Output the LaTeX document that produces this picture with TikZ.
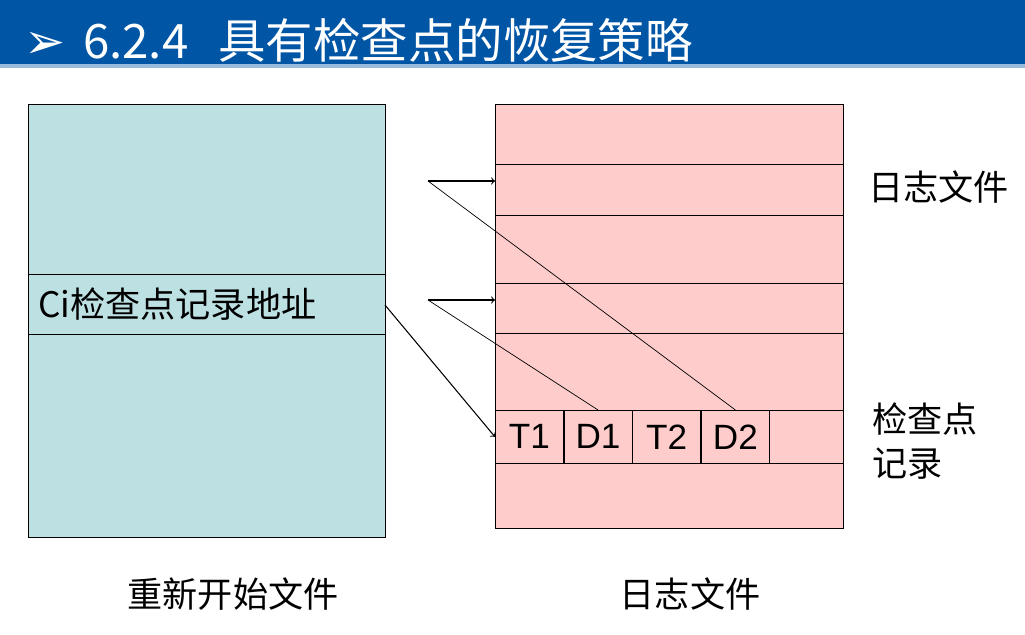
\documentclass[tikz,border=0pt]{standalone}
\usepackage{fontspec}
\setmainfont{Liberation Sans}
\newfontfamily\cjk{Noto Sans CJK SC}
\newfontfamily\symb{DejaVu Sans}
\usetikzlibrary{arrows}
\definecolor{barblue}{RGB}{0,85,165}
\definecolor{restart}{RGB}{189,224,227}
\definecolor{logpink}{RGB}{255,204,204}
\tikzset{
  cell/.style={draw, fill=logpink, minimum width=1.36cm, minimum height=1.06cm, inner sep=0pt, font=\fontsize{20}{20}\selectfont},
  lbl/.style={font=\cjk\fontsize{20}{25}\selectfont, inner sep=0pt, align=left},
  ptr/.style={->, >=to, semithick}
}
\begin{document}
\begin{tikzpicture}[x=0.02cm, y=-0.02cm]
\useasboundingbox (0,0) rectangle (1025,635);
% title bar
\fill [barblue] (0,0) rectangle (1025,64);
\fill [barblue!40] (0,64) rectangle (1025,68);
\node [anchor=west, text=white, inner sep=0pt] (title) at (24,40)
  {{\symb\fontsize{28}{28}\selectfont ➢}\hspace{0.35cm}{\cjk\fontsize{27}{27}\selectfont 6.2.4\hspace{0.6cm}具有检查点的恢复策略}};
% restart file
\draw [fill=restart] (28,104) rectangle (385,537);
\draw (28,274) rectangle (385,334);
\node [lbl, anchor=west] (ci) at (38,304) {Ci{\cjk 检查点记录地址}};
\coordinate (cio) at (385,305);
% log file
\draw [fill=logpink] (495,104) rectangle (843,528);
\foreach \y in {164,215,283,333,410,463}
  \draw (495,\y) -- (843,\y);
\node [cell, anchor=north west] (t1) at (495,410) {T1};
\node [cell, anchor=west] (d1) at (t1.east) {D1};
\node [cell, anchor=west] (t2) at (d1.east) {T2};
\node [cell, anchor=west] (d2) at (t2.east) {D2};
% pointers
\coordinate (p1) at (428,181);
\coordinate (q1) at (495,181);
\coordinate (p2) at (428,300);
\coordinate (q2) at (495,300);
\draw [ptr] (p1) -- (q1);
\draw (p1) -- (d2.north);
\draw [ptr] (p2) -- (q2);
\draw (p2) -- (d1.north);
\draw [ptr] (cio) -- (t1.west);
% labels
\node [lbl, anchor=west] (logr) at (868,187) {日志文件};
\node [lbl, anchor=west] (ckr) at (872,441) {检查点\\记录};
\node [lbl] (restartlbl) at (233,594) {重新开始文件};
\node [lbl] (loglbl) at (690,594) {日志文件};
\end{tikzpicture}
\end{document}
